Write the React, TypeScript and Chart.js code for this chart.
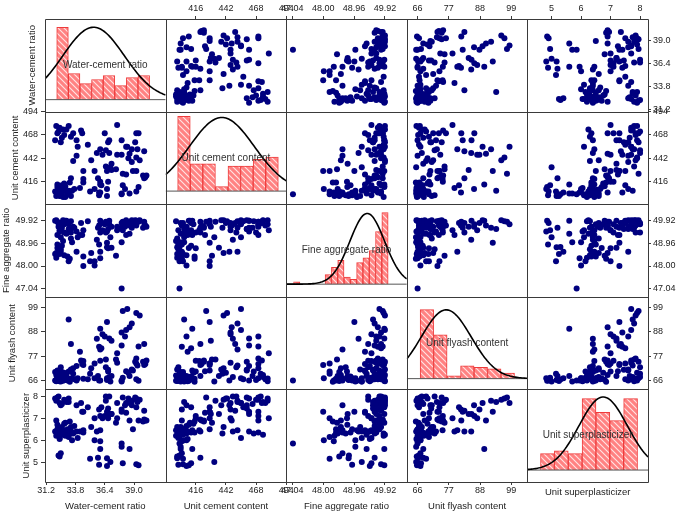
import { useEffect, useRef } from "react";
import { Chart, registerables } from "chart.js";

Chart.register(...registerables);

const VARIABLE_NAMES = [
  "Water-cement ratio",
  "Unit cement content",
  "Fine aggregate ratio",
  "Unit flyash content",
  "Unit superplasticizer",
];

// ---- observations (one entry per mix) ----
const WATER_CEMENT = [
  32.1, 32.3, 32.2, 32.5, 32.4, 32.6, 32.8, 32.2, 32.7, 33.0,
  32.3, 32.9, 33.2, 32.1, 32.6, 33.4, 32.4, 32.8, 33.1, 32.5,
  33.5, 32.2, 33.7, 32.9, 33.3, 32.0, 32.3, 32.5, 32.4, 32.0,
  32.2, 32.4, 32.1, 32.6, 32.3, 32.8, 33.0, 32.5, 33.2, 33.4,
  33.6, 32.7, 33.9, 39.4, 37.9, 36.0, 35.7, 36.4, 36.8, 36.2,
  37.9, 38.3, 38.6, 38.8, 36.6, 39.2, 38.4, 33.4, 33.2, 34.2,
  39.5, 37.0, 38.0, 37.5, 36.0, 35.9, 36.1, 38.2, 39.9, 40.0,
  39.9, 39.8, 39.2, 38.9, 38.6, 37.9, 37.9, 36.6, 36.0, 35.5,
  35.1, 36.7, 36.0, 38.3, 36.5, 34.5, 34.5, 35.5, 34.5, 38.8,
  38.5, 37.5, 36.5, 39.3, 39.1, 39.2, 36.7, 34.3, 34.4, 33.6,
  36.8, 37.4, 37.0, 38.0, 39.4, 39.2, 36.9, 35.9, 36.6, 35.8,
  33.9, 34.9, 40.1, 34.0, 35.2,
];
const CEMENT = [
  400, 402, 404, 406, 401, 403, 408, 410, 399, 405,
  407, 411, 402, 404, 412, 400, 409, 414, 403, 401,
  406, 413, 408, 399, 415, 405, 402, 404, 400, 462,
  470, 476, 478, 465, 472, 468, 474, 460, 478, 466,
  470, 474, 462, 470, 462, 452, 448, 470, 462, 446,
  446, 455, 447, 452, 428, 443, 455, 420, 406, 409,
  440, 429, 425, 479, 413, 404, 412, 408, 450, 421,
  420, 423, 428, 428, 403, 402, 403, 400, 404, 408,
  405, 416, 416, 424, 433, 415, 419, 428, 428, 438,
  442, 446, 451, 452, 460, 470, 460, 473, 470, 439,
  448, 430, 436, 412, 410, 405, 432, 401, 408, 420,
  445, 457, 423, 455, 440,
];
const FINE_AGGREGATE = [
  48.35, 48.6, 48.9, 49.2, 49.5, 49.8, 48.45, 48.75, 49.05, 49.35,
  49.65, 49.9, 48.2, 48.55, 48.85, 49.15, 49.45, 49.75, 48.4, 48.7,
  49.0, 49.3, 49.6, 49.88, 48.3, 48.5, 48.8, 48.6, 48.5, 49.9,
  49.85, 49.7, 49.92, 49.6, 49.8, 49.4, 49.9, 49.55, 49.75, 49.88,
  49.65, 49.92, 49.45, 49.85, 49.6, 48.6, 49.1, 49.75, 49.9, 49.5,
  49.8, 49.92, 49.7, 49.6, 48.97, 49.88, 49.75, 49.4, 49.55, 49.3,
  49.92, 49.65, 49.85, 49.5, 49.9, 49.7, 49.8, 49.65, 49.8, 49.7,
  49.85, 49.6, 49.9, 49.75, 49.35, 47.06, 49.0, 48.79, 48.33, 48.02,
  48.2, 48.74, 49.4, 49.3, 49.85, 48.4, 49.5, 48.2, 48.0, 49.92,
  49.8, 49.65, 49.4, 49.88, 49.92, 49.7, 49.55, 49.8, 49.3, 49.6,
  49.75, 48.43, 48.76, 49.5, 49.9, 49.8, 49.2, 48.9, 49.45, 49.6,
  48.6, 49.88, 49.65, 49.2, 48.55,
];
const FLYASH = [
  66.0, 66.5, 67.0, 65.5, 66.2, 67.5, 68.0, 66.8, 65.8, 69.0,
  67.2, 66.3, 70.0, 68.5, 67.8, 71.0, 65.6, 69.5, 66.0, 72.0,
  67.0, 70.5, 66.5, 68.2, 65.4, 69.8, 66.4, 67.0, 65.7, 66.0,
  67.0, 66.5, 65.6, 68.0, 69.0, 66.2, 67.5, 70.5, 66.8, 70.0,
  71.5, 68.5, 72.5, 81.4, 81.9, 80.0, 84.9, 86.0, 85.0, 87.0,
  87.8, 88.9, 90.1, 91.9, 92.5, 96.6, 98.4, 82.5, 93.7, 79.0,
  95.5, 84.0, 97.5, 78.3, 89.5, 81.3, 80.6, 85.9, 82.5, 73.5,
  73.0, 74.5, 73.7, 70.5, 68.0, 66.0, 65.5, 66.2, 66.0, 67.0,
  69.0, 70.0, 74.9, 70.2, 75.5, 66.7, 74.8, 73.7, 73.0, 71.0,
  69.5, 74.0, 72.0, 72.8, 74.5, 76.0, 70.8, 75.0, 73.5, 69.0,
  67.5, 75.5, 68.0, 67.2, 65.8, 66.5, 65.5, 66.0, 67.0, 68.0,
  66.0, 66.5, 75.0, 67.0, 71.5,
];
const SUPERPLASTICIZER = [
  6.2, 6.35, 6.5, 6.4, 6.1, 6.6, 6.3, 6.7, 6.45, 6.25,
  6.55, 6.8, 6.15, 6.9, 6.35, 6.6, 6.05, 6.75, 6.5, 6.3,
  6.0, 6.45, 6.65, 6.2, 6.85, 6.4, 5.3, 5.4, 5.25, 7.9,
  7.95, 7.7, 7.8, 7.65, 8.0, 7.85, 7.75, 7.6, 7.9, 6.3,
  6.35, 6.25, 6.4, 6.9, 7.3, 6.45, 6.4, 7.1, 7.2, 7.0,
  7.4, 7.7, 6.9, 7.8, 7.3, 7.9, 7.7, 6.4, 7.75, 6.4,
  7.85, 7.2, 7.95, 7.0, 5.6, 7.4, 7.5, 7.6, 7.35, 6.9,
  6.95, 6.85, 7.5, 6.5, 5.6, 5.85, 5.7, 5.17, 5.95, 6.0,
  5.15, 7.0, 7.1, 7.25, 7.8, 6.35, 6.45, 7.0, 7.3, 7.6,
  7.9, 7.7, 8.0, 7.75, 7.95, 7.85, 7.45, 7.7, 7.3, 6.3,
  8.0, 6.8, 7.2, 4.95, 4.85, 4.9, 5.0, 4.88, 4.82, 5.2,
  7.6, 7.5, 6.9, 6.1, 6.6,
];
const VARIABLES = [WATER_CEMENT, CEMENT, FINE_AGGREGATE, FLYASH, SUPERPLASTICIZER];

// ---- tick labels ----
const WC_TICKS = [31.2, 33.8, 36.4, 39.0];
const CEMENT_TICKS = [416, 442, 468, 494];
const FINE_TICKS = [47.04, 48.0, 48.96, 49.92];
const FLYASH_TICKS = [66, 77, 88, 99];
const SP_TICKS = [5, 6, 7, 8];
const TICKS = [WC_TICKS, CEMENT_TICKS, FINE_TICKS, FLYASH_TICKS, SP_TICKS];
const TICK_DECIMALS = [1, 0, 2, 0, 0];

// ---- axis ranges ----
const X_RANGES = [[31.1, 41.8], [390, 494], [46.85, 50.6], [62.2, 104.7], [4.18, 8.27]];
const Y_RANGES = [[31.0, 41.35], [391, 494], [46.71, 50.59], [61.9, 104.0], [4.09, 8.32]];

// ---- histograms (diagonal) ----
const WC_HIST_START = 32.14;
const WC_HIST_WIDTH = 1.03;
const WC_HIST_COUNTS = [36, 13, 8, 10, 12, 7, 11, 12];
const CEMENT_HIST_START = 400.4;
const CEMENT_HIST_WIDTH = 10.85;
const CEMENT_HIST_COUNTS = [33, 12, 12, 2, 11, 11, 14, 15];
const FINE_HIST_START = 47.08;
const FINE_HIST_WIDTH = 0.196;
const FINE_HIST_COUNTS = [1, 0, 0, 0, 0, 4, 7, 10, 3, 2, 9, 11, 14, 22, 30];
const FLYASH_HIST_START = 66.9;
const FLYASH_HIST_WIDTH = 4.75;
const FLYASH_HIST_COUNTS = [49, 31, 2, 9, 8, 7, 4];
const SP_HIST_START = 4.625;
const SP_HIST_WIDTH = 0.47;
const SP_HIST_COUNTS = [6, 7, 6, 26, 21, 18, 26];
const HIST_STARTS = [WC_HIST_START, CEMENT_HIST_START, FINE_HIST_START, FLYASH_HIST_START, SP_HIST_START];
const HIST_WIDTHS = [WC_HIST_WIDTH, CEMENT_HIST_WIDTH, FINE_HIST_WIDTH, FLYASH_HIST_WIDTH, SP_HIST_WIDTH];
const HIST_COUNTS = [WC_HIST_COUNTS, CEMENT_HIST_COUNTS, FINE_HIST_COUNTS, FLYASH_HIST_COUNTS, SP_HIST_COUNTS];
const HIST_RANGES = [[-5.94, 40.1], [-5.78, 35.1], [-5.29, 33.46], [-7.64, 58.07], [-4.35, 29.35]];

// normal distribution curve parameters
const CURVE_MEAN = [35.41, 438.5, 49.37, 76.1, 6.75];
const CURVE_SD = [2.73, 28, 0.54, 8.8, 0.82];
const CURVE_PEAK = [36, 32.5, 29.6, 48.8, 26.6];

// ---- styling ----
const FONT_FAMILY = "'Liberation Sans', Arial, Helvetica, sans-serif";
const TICK_FONT = { family: FONT_FAMILY, size: 9 };
const TITLE_FONT = { family: FONT_FAMILY, size: 9.5 };
const TEXT_COLOR = "#222222";
const FRAME_COLOR = "#3a3a3a";
const POINT_COLOR = "#00007f";
const LEFT_TITLE_PAD = [27, 10, 1, 7, 21];
const BOTTOM_TITLE_PAD = [3.6, 3.6, 3.6, 3.6, 18.3];

function makeHatch(): any {
  const c = document.createElement("canvas");
  c.width = 6;
  c.height = 6;
  const g = c.getContext("2d") as CanvasRenderingContext2D;
  g.fillStyle = "#ff8282";
  g.fillRect(0, 0, 6, 6);
  g.strokeStyle = "#ffe4e4";
  g.lineWidth = 1.1;
  g.beginPath();
  g.moveTo(0, 0);
  g.lineTo(6, 6);
  g.moveTo(-1, 5);
  g.lineTo(1, 7);
  g.moveTo(5, -1);
  g.lineTo(7, 1);
  g.stroke();
  return g.createPattern(c, "repeat");
}

function axisBase(j: number, range: number[], showTicks: boolean, tickLen: number, pad: number): any {
  return {
    type: "linear",
    min: range[0],
    max: range[1],
    offset: false,
    bounds: "data",
    grid: {
      display: showTicks,
      drawOnChartArea: false,
      drawTicks: true,
      tickLength: tickLen,
      tickColor: FRAME_COLOR,
      tickWidth: 1,
      offset: false,
    },
    border: { display: false },
    ticks: {
      display: showTicks,
      font: TICK_FONT,
      color: TEXT_COLOR,
      padding: pad,
      autoSkip: false,
      maxRotation: 0,
      minRotation: 0,
      includeBounds: false,
      callback: (v: any) => Number(v).toFixed(TICK_DECIMALS[j]),
    },
    afterBuildTicks: (ax: any) => {
      ax.ticks = TICKS[j].map((v) => ({ value: v }));
    },
  };
}

function buildScales(): any {
  const scales: any = {};
  for (let j = 0; j < 5; j++) {
    scales["xb" + j] = {
      ...axisBase(j, X_RANGES[j], j < 4, 3, 0),
      axis: "x",
      position: "bottom",
      stack: "bottom",
      stackWeight: 1,
      weight: j,
      afterFit: (ax: any) => {
        ax.height = 34;
      },
      title: {
        display: true,
        text: VARIABLE_NAMES[j],
        font: TITLE_FONT,
        color: TEXT_COLOR,
        padding: { top: 0, bottom: BOTTOM_TITLE_PAD[j] },
      },
    };
    scales["xt" + j] = {
      ...axisBase(j, X_RANGES[j], j > 0, 3, 2),
      axis: "x",
      position: "top",
      stack: "top",
      stackWeight: 1,
      weight: 4 - j,
      afterFit: (ax: any) => {
        ax.height = 19;
      },
    };
  }
  for (let i = 0; i < 5; i++) {
    scales["yl" + i] = {
      ...axisBase(i, Y_RANGES[i], i > 0, 4, 3),
      axis: "y",
      position: "left",
      stack: "left",
      stackWeight: 1,
      weight: 4 - i,
      afterFit: (ax: any) => {
        ax.width = 45;
      },
      title: {
        display: true,
        text: VARIABLE_NAMES[i],
        font: TITLE_FONT,
        color: TEXT_COLOR,
        padding: { top: LEFT_TITLE_PAD[i], bottom: 0 },
      },
    };
    scales["yr" + i] = {
      ...axisBase(i, Y_RANGES[i], i < 4, 3, 2),
      axis: "y",
      position: "right",
      stack: "right",
      stackWeight: 1,
      weight: i,
      afterFit: (ax: any) => {
        ax.width = 32;
      },
    };
    scales["h" + i] = {
      type: "linear",
      axis: "y",
      position: "right",
      stack: "hist",
      stackWeight: 1,
      weight: i,
      display: false,
      min: HIST_RANGES[i][0],
      max: HIST_RANGES[i][1],
    };
  }
  return scales;
}

function buildDatasets(hatch: any): any[] {
  const ds: any[] = [];
  const n = WATER_CEMENT.length;
  for (let d = 0; d < 5; d++) {
    const [lo, hi] = X_RANGES[d];
    const curve: any[] = [];
    const steps = 90;
    for (let k = 0; k <= steps; k++) {
      const x = lo + ((hi - lo) * k) / steps;
      const z = (x - CURVE_MEAN[d]) / CURVE_SD[d];
      curve.push({ x, y: CURVE_PEAK[d] * Math.exp(-0.5 * z * z) });
    }
    ds.push({
      type: "line",
      data: curve,
      xAxisID: "xb" + d,
      yAxisID: "h" + d,
      borderColor: "#000000",
      borderWidth: 1.6,
      pointRadius: 0,
      fill: false,
      tension: 0,
      order: 0,
    });
    ds.push({
      type: "line",
      data: [
        { x: lo, y: 0 },
        { x: hi, y: 0 },
      ],
      xAxisID: "xb" + d,
      yAxisID: "h" + d,
      borderColor: "#555555",
      borderWidth: 1,
      pointRadius: 0,
      fill: false,
      order: 1,
    });
    ds.push({
      type: "bar",
      data: HIST_COUNTS[d].map((c, k) => ({ x: HIST_STARTS[d] + HIST_WIDTHS[d] * (k + 0.5), y: c })),
      xAxisID: "xb" + d,
      yAxisID: "h" + d,
      backgroundColor: hatch,
      borderColor: "#ee3b3b",
      borderWidth: 1,
      barPercentage: 1,
      categoryPercentage: 1,
      grouped: false,
      order: 2,
    });
  }
  for (let i = 0; i < 5; i++) {
    for (let j = 0; j < 5; j++) {
      if (i === j) continue;
      const pts: any[] = [];
      for (let k = 0; k < n; k++) pts.push({ x: VARIABLES[j][k], y: VARIABLES[i][k] });
      ds.push({
        type: "scatter",
        data: pts,
        xAxisID: "xb" + j,
        yAxisID: "yl" + i,
        backgroundColor: POINT_COLOR,
        borderColor: POINT_COLOR,
        borderWidth: 0,
        pointRadius: 3,
        showLine: false,
        order: 3,
      });
    }
  }
  return ds;
}

const panelPlugin = {
  id: "panelFrame",
  afterDatasetsDraw(chart: any) {
    const ctx = chart.ctx as CanvasRenderingContext2D;
    const ca = chart.chartArea;
    ctx.save();
    ctx.strokeStyle = FRAME_COLOR;
    ctx.lineWidth = 1;
    ctx.beginPath();
    const xs = new Set<number>();
    const ys = new Set<number>();
    for (let j = 0; j < 5; j++) {
      const s = chart.scales["xb" + j];
      xs.add(Math.round(s.left));
      xs.add(Math.round(s.right));
      const t = chart.scales["yl" + j];
      ys.add(Math.round(t.top));
      ys.add(Math.round(t.bottom));
    }
    const top = Math.round(ca.top) + 0.5;
    const bottom = Math.round(ca.bottom) + 0.5;
    const left = Math.round(ca.left) + 0.5;
    const right = Math.round(ca.right) + 0.5;
    xs.forEach((x) => {
      ctx.moveTo(x + 0.5, top);
      ctx.lineTo(x + 0.5, bottom);
    });
    ys.forEach((y) => {
      ctx.moveTo(left, y + 0.5);
      ctx.lineTo(right, y + 0.5);
    });
    ctx.stroke();
    ctx.fillStyle = "#333333";
    ctx.font = "10px " + FONT_FAMILY;
    ctx.textAlign = "center";
    ctx.textBaseline = "middle";
    for (let d = 0; d < 5; d++) {
      const sx = chart.scales["xb" + d];
      const sy = chart.scales["yl" + d];
      ctx.fillText(VARIABLE_NAMES[d], (sx.left + sx.right) / 2, (sy.top + sy.bottom) / 2);
    }
    ctx.restore();
  },
};

export default function App() {
  const canvasRef = useRef<HTMLCanvasElement>(null);
  useEffect(() => {
    const canvas = canvasRef.current;
    if (!canvas) return;
    const hatch = makeHatch();
    const chart = new Chart(canvas, {
      type: "scatter",
      data: { datasets: buildDatasets(hatch) },
      options: {
        responsive: false,
        animation: false,
        devicePixelRatio: 1,
        events: [],
        layout: { padding: 0 },
        plugins: {
          legend: { display: false },
          tooltip: { enabled: false },
          title: { display: false },
        },
        scales: buildScales(),
      },
      plugins: [panelPlugin],
    } as any);
    return () => chart.destroy();
  }, []);
  return (
    <div style={{ position: "fixed", left: 0, top: 0, width: 680, height: 516, background: "#ffffff" }}>
      <canvas ref={canvasRef} width={680} height={516} style={{ display: "block", width: 680, height: 516 }} />
    </div>
  );
}
